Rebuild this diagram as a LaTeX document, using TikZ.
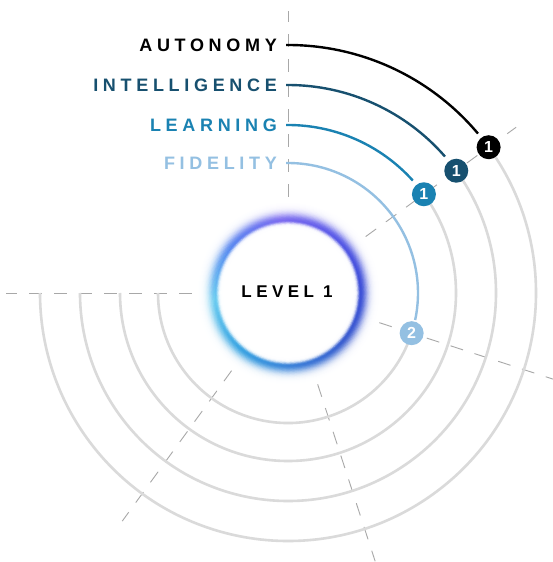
\documentclass[tikz,border=0pt]{standalone}
\usepackage{fontspec}
\setmainfont{Liberation Sans}
\newfontfamily\labfont[LetterSpace=26]{Liberation Sans Bold}
\newfontfamily\numfont{Liberation Sans Bold}
\definecolor{autoc}{HTML}{000000}
\definecolor{intc}{HTML}{17506F}
\definecolor{learnc}{HTML}{1A82B2}
\definecolor{fidc}{HTML}{94C0E2}
\definecolor{ringgray}{HTML}{DADADA}
\definecolor{dashgray}{HTML}{A8A8A8}
\definecolor{g0}{HTML}{3D4FD8}
\definecolor{g1}{HTML}{5A5AE8}
\definecolor{g2}{HTML}{7D6CF0}
\definecolor{g3}{HTML}{5A88F0}
\definecolor{g4}{HTML}{6CCCF0}
\definecolor{g5}{HTML}{3AA4E2}
\definecolor{g6}{HTML}{3C80D8}
\definecolor{g7}{HTML}{3A5CCF}
\definecolor{g8}{HTML}{3D4FD8}
\tikzset{
  dashline/.style={draw=dashgray, line width=0.9pt, dash pattern=on 13pt off 12pt},
  grayarc/.style={draw=ringgray, line width=2.6pt},
  colarc/.style={line width=2.4pt},
  badge/.style={circle, minimum size=24pt, inner sep=0pt, text=white, font=\numfont\fontsize{16}{16}\selectfont},
  lab/.style={inner sep=0pt, anchor=east, font=\labfont\fontsize{18}{18}\selectfont},
}
\begin{document}
\begin{tikzpicture}[x=1pt,y=1pt]
\useasboundingbox (-288,-269) rectangle (264,293);
\fill[white] (-288,-269) rectangle (264,293);
% radial dashed lines
\foreach \a in {90,36,-18,-72,-126,180}
  \draw[dashline] (\a:96) -- (\a:282);
% gray rings
\draw[grayarc] (36:248) arc[start angle=36, end angle=-180, radius=248pt];
\draw[grayarc] (36:208) arc[start angle=36, end angle=-180, radius=208pt];
\draw[grayarc] (36:168) arc[start angle=36, end angle=-180, radius=168pt];
\draw[grayarc] (-18:130) arc[start angle=-18, end angle=-180, radius=130pt];
% glow
\foreach \r in {90,89,...,66}{
  \pgfmathsetmacro\p{\r>72 ? 100*exp(-((\r-72)/7.5)^2) : 100*exp(-((72-\r)/2.6)^2)}
  \pgfmathsetmacro\off{mod(\r*1.7,5.625)}
  \foreach \i [evaluate=\i as \j using int(\i+1)] in {0,...,7}{
    \foreach \t [evaluate=\t as \q using 100-12.5*\t, evaluate=\t as \aa using 45*\i+5.625*\t+\off] in {0,...,7}{
      \draw[line width=1.6pt, color={g\i!\q!g\j!\p!white}] (\aa:\r) arc[start angle=\aa, end angle=\aa+7.2, radius=\r pt];
    }
  }
}
\node[inner sep=0pt, font=\labfont\fontsize{17}{17}\selectfont] (lev) at (-1,1) {LEVEL 1};
% badges and coloured arcs
\coordinate (s4) at (-2,248);
\coordinate (s3) at (-2,208);
\coordinate (s2) at (-2,168);
\coordinate (s1) at (-2,130);
\coordinate (b4) at (36:248);
\coordinate (b3) at (36:208);
\coordinate (b2) at (36:168);
\coordinate (b1) at (-18:130);
\draw[colarc, draw=autoc] (s4) -- (0,248) arc[start angle=90, end angle=40, radius=248pt];
\draw[colarc, draw=intc] (s3) -- (0,208) arc[start angle=90, end angle=41, radius=208pt];
\draw[colarc, draw=learnc] (s2) -- (0,168) arc[start angle=90, end angle=42, radius=168pt];
\draw[colarc, draw=fidc] (s1) -- (0,130) arc[start angle=90, end angle=-12, radius=130pt];
\node[badge, fill=autoc] (n4) at (b4) {1};
\node[badge, fill=intc] (n3) at (b3) {1};
\node[badge, fill=learnc] (n2) at (b2) {1};
\node[badge, fill=fidc] (n1) at (b1) {2};
% labels
\node[lab, text=autoc] (l4) at (-11,248) {AUTONOMY};
\node[lab, text=intc] (l3) at (-11,208) {INTELLIGENCE};
\node[lab, text=learnc] (l2) at (-11,168) {LEARNING};
\node[lab, text=fidc] (l1) at (-11,130) {FIDELITY};
\end{tikzpicture}
\end{document}
